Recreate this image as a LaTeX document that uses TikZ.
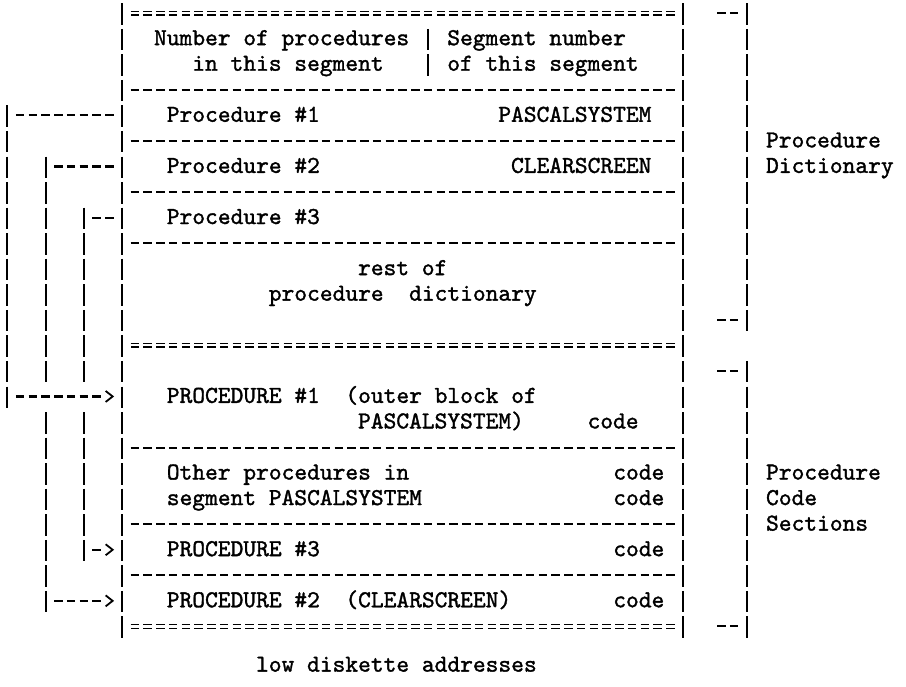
\documentclass[tikz,border=0pt]{standalone}
\usepackage{fontspec}
\usepackage{tikz}
\usetikzlibrary{arrows.meta}

\newfontfamily\typer{lmmono10-regular.otf}[FakeBold=1.4]

\begin{document}
\begin{tikzpicture}[x=12.75pt,y=-25.55pt]

\tikzstyle{txt}=[font=\typer\fontsize{24.3}{25.5}\selectfont,anchor=base west,inner sep=0pt]
\tikzstyle{pipe}=[line width=2pt,dash pattern=on 21.5pt off 4.05pt]
\tikzstyle{dashrow}=[line width=2.1pt,dash pattern=on 8.5pt off 4.25pt,dash phase=10.625pt]
\tikzstyle{eqrow}=[dashrow,line width=1.4pt,double distance=2.2pt]
\tikzstyle{ptrtip}=[line width=1.8pt,dash pattern=on 0pt off 50pt,-{Straight Barb[length=7pt,width=11pt]}]

\useasboundingbox (-0.569,-0.587) rectangle (70.49,26.3);

%segment box
\draw[pipe] (9,-0.46) -- (9,24.38);
\draw[pipe] (53,-0.46) -- (53,24.38);
\draw[pipe] (33,0.54) -- (33,2.38);

\foreach \r in {0,13,24} \draw[eqrow] (9.5,\r-0.07) -- (52.5,\r-0.07);
\foreach \r in {3,5,7,9,17,20,22} \draw[dashrow] (9.5,\r-0.07) -- (52.5,\r-0.07);

%header
\node [txt] (num) at (11.5,1.18) {Number of procedures};
\node [txt] (inseg) at (14.5,2.18) {in this segment};
\node [txt] (segnum) at (34.5,1.18) {Segment number};
\node [txt] (ofseg) at (34.5,2.18) {of this segment};

%procedure dictionary
\node [txt] (dict1) at (12.5,4.18) {Procedure \#1};
\node [txt] (name1) at (38.5,4.18) {PASCALSYSTEM};
\node [txt] (dict2) at (12.5,6.18) {Procedure \#2};
\node [txt] (name2) at (39.5,6.18) {CLEARSCREEN};
\node [txt] (dict3) at (12.5,8.18) {Procedure \#3};
\node [txt] (rest1) at (27.5,10.18) {rest of};
\node [txt] (rest2) at (20.5,11.18) {procedure~~dictionary};

%code sections
\node [txt] (proc1) at (12.5,15.18) {PROCEDURE \#1~~(outer block of};
\node [txt] (proc1b) at (27.5,16.18) {PASCALSYSTEM)};
\node [txt] (code1) at (45.5,16.18) {code};
\node [txt] (other1) at (12.5,18.18) {Other procedures in};
\node [txt] (other2) at (12.5,19.18) {segment PASCALSYSTEM};
\node [txt] (code2) at (code1 |- other1.base) {code};
\node [txt] (code3) at (code1 |- other2.base) {code};
\node [txt] (proc3) at (12.5,21.18) {PROCEDURE \#3};
\node [txt] (code4) at (code1 |- proc3.base) {code};
\node [txt] (proc2) at (12.5,23.18) {PROCEDURE \#2~~(CLEARSCREEN)};
\node [txt] (code5) at (code1 |- proc2.base) {code};

\node [txt] (low) at (19.5,25.7) {low diskette addresses};

%brackets on the right
\draw[pipe] (58,-0.46) -- (58,12.38);
\draw[pipe] (58,13.54) -- (58,24.38);
\foreach \r in {0,12,14,24} \draw[dashrow] (55.5,\r-0.07) -- (57.5,\r-0.07);

\node [txt] (dictlab1) at (59.5,5.18) {Procedure};
\node [txt] (dictlab2) at (59.5,6.18) {Dictionary};
\node [txt] (codelab1) at (59.5,18.18) {Procedure};
\node [txt] (codelab2) at (59.5,19.18) {Code};
\node [txt] (codelab3) at (59.5,20.18) {Sections};

%pointer for procedure #1
\coordinate (p1top) at (0,3.54);
\coordinate (p1bot) at (0,15.38);
\coordinate (p1a) at (0.5,3.93);
\coordinate (p1b) at (8.5,3.93);
\coordinate (p1c) at (0.5,14.93);
\coordinate (p1d) at (7.5,14.93);
\coordinate (p1e) at (8.38,14.93);
\draw[pipe] (p1top) -- (p1bot);
\draw[dashrow] (p1a) -- (p1b);
\draw[dashrow] (p1c) -- (p1d);
\draw[ptrtip] (p1d) -- (p1e);

%pointer for procedure #2 (broken where pointer 1 crosses)
\coordinate (p2top) at (3,5.54);
\coordinate (p2gap1) at (3,14.38);
\coordinate (p2gap2) at (3,15.54);
\coordinate (p2bot) at (3,23.38);
\coordinate (p2a) at (3.5,5.93);
\coordinate (p2b) at (8.5,5.93);
\coordinate (p2c) at (3.5,22.93);
\coordinate (p2d) at (7.5,22.93);
\coordinate (p2e) at (8.38,22.93);
\draw[pipe] (p2top) -- (p2gap1);
\draw[pipe] (p2gap2) -- (p2bot);
\draw[dashrow] (p2a) -- (p2b);
\draw[dashrow] (p2c) -- (p2d);
\draw[ptrtip] (p2d) -- (p2e);

%pointer for procedure #3 (broken where pointer 1 crosses)
\coordinate (p3top) at (6,7.54);
\coordinate (p3gap1) at (6,14.38);
\coordinate (p3gap2) at (6,15.54);
\coordinate (p3bot) at (6,21.38);
\coordinate (p3a) at (6.5,7.93);
\coordinate (p3b) at (8.5,7.93);
\coordinate (p3c) at (6.5,20.93);
\coordinate (p3d) at (7.5,20.93);
\coordinate (p3e) at (8.38,20.93);
\draw[pipe] (p3top) -- (p3gap1);
\draw[pipe] (p3gap2) -- (p3bot);
\draw[dashrow] (p3a) -- (p3b);
\draw[dashrow] (p3c) -- (p3d);
\draw[ptrtip] (p3d) -- (p3e);

\end{tikzpicture}
\end{document}
